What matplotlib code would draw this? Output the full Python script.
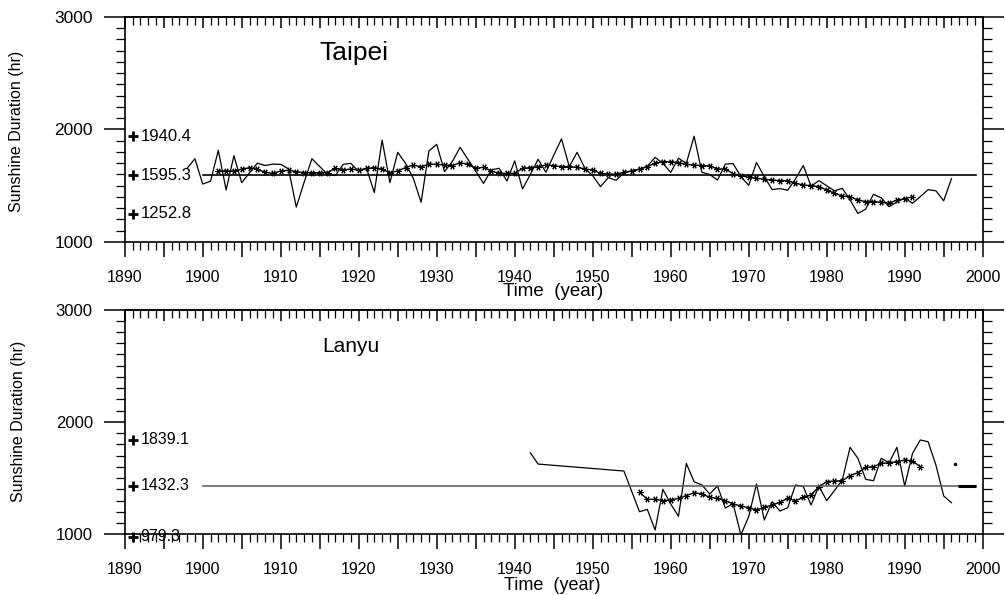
import matplotlib
matplotlib.use('Agg')
import matplotlib.pyplot as plt
import numpy as np
from matplotlib.ticker import MultipleLocator

plt.rcParams['font.family'] = ['Liberation Sans', 'DejaVu Sans']

# ---------------- data ----------------
taipei_years = list(range(1898, 1997))
taipei_raw = [1655, 1740, 1515, 1540, 1815, 1462, 1767, 1527, 1615, 1700,
              1680, 1692, 1690, 1650, 1310, 1530, 1740, 1670, 1602, 1590,
              1690, 1699, 1625, 1655, 1440, 1905, 1527, 1797, 1699, 1566,
              1353, 1809, 1868, 1625, 1715, 1841, 1735, 1630, 1521, 1640,
              1655, 1542, 1720, 1471, 1600, 1735, 1619, 1770, 1916, 1670,
              1797, 1655, 1590, 1492, 1572, 1548, 1615, 1630, 1650, 1672,
              1752, 1699, 1619, 1744, 1699, 1940, 1620, 1600, 1550, 1692,
              1697, 1580, 1504, 1706, 1581, 1466, 1474, 1460, 1560, 1680,
              1495, 1545, 1500, 1455, 1477, 1375, 1253, 1292, 1424, 1392,
              1314, 1355, 1392, 1344, 1403, 1465, 1455, 1366, 1563]
taipei_smooth_years = list(range(1902, 1992))
taipei_smooth = [1631, 1631, 1631, 1646, 1661, 1646, 1619, 1610, 1631, 1637,
                 1625, 1616, 1616, 1616, 1616, 1655, 1640, 1649, 1637, 1655,
                 1661, 1646, 1616, 1631, 1661, 1684, 1667, 1693, 1690, 1684,
                 1679, 1705, 1690, 1655, 1664, 1631, 1610, 1610, 1610, 1655,
                 1661, 1670, 1684, 1679, 1670, 1670, 1664, 1649, 1640, 1610,
                 1604, 1602, 1619, 1631, 1646, 1670, 1699, 1714, 1714, 1705,
                 1690, 1684, 1679, 1676, 1649, 1649, 1607, 1590, 1575, 1566,
                 1557, 1551, 1545, 1545, 1521, 1507, 1501, 1492, 1462, 1433,
                 1409, 1403, 1373, 1359, 1359, 1353, 1344, 1373, 1382, 1403]
taipei_mean = 1595.3
taipei_marks = [1940.4, 1595.3, 1252.8]

lanyu_years = [1942, 1943, 1954] + list(range(1956, 1997))
lanyu_raw = [1726, 1625, 1563,
             1201, 1222, 1038, 1400, 1270, 1160, 1631, 1468, 1439, 1359,
             1430, 1234, 1272, 995, 1157, 1448, 1127, 1290, 1207, 1237,
             1439, 1424, 1261, 1430, 1299, 1390, 1483, 1774, 1676, 1489,
             1477, 1676, 1637, 1774, 1430, 1720, 1839, 1824, 1617, 1341,
             1281]
lanyu_smooth_years = list(range(1956, 1993))
lanyu_smooth = [1376, 1311, 1311, 1299, 1305, 1320, 1344, 1370, 1359, 1329,
                1320, 1299, 1270, 1252, 1237, 1216, 1240, 1261, 1284, 1320,
                1299, 1329, 1350, 1424, 1468, 1474, 1477, 1522, 1548, 1596,
                1602, 1631, 1637, 1646, 1661, 1652, 1602]
lanyu_dot_year = [1996.4]
lanyu_dot_value = [1625]
lanyu_mean = 1432.3
lanyu_marks = [1839.1, 1432.3, 979.3]

xtick_years = list(range(1890, 2001, 5))
ytick_values = [1000, 2000, 3000]

# ---------------- figure ----------------
fig = plt.figure(figsize=(10.05, 5.95), dpi=100)
ax1 = fig.add_axes([0.1241, 0.5933, 0.8537, 0.3782])
ax2 = fig.add_axes([0.1241, 0.1020, 0.8537, 0.3778])


def style(ax, fs_x, fs_y, xpad):
    ax.set_xlim(1890, 2000)
    ax.set_ylim(1000, 3000)
    ax.set_xticks(xtick_years)
    ax.set_xticklabels([str(y) if y % 10 == 0 else '' for y in xtick_years],
                       fontsize=fs_x)
    ax.xaxis.set_minor_locator(MultipleLocator(1))
    ax.set_yticks(ytick_values)
    ax.set_yticklabels([str(v) for v in ytick_values], fontsize=fs_y)
    ax.yaxis.set_minor_locator(MultipleLocator(100))
    ax.tick_params(axis='x', which='major', direction='out', length=11,
                   width=1.1, top=False, pad=xpad)
    ax.tick_params(axis='x', which='minor', direction='out', length=6,
                   width=0.9, top=False)
    ax.tick_params(axis='y', which='major', direction='out', length=15,
                   width=1.1, right=True, pad=8)
    ax.tick_params(axis='y', which='minor', direction='out', length=6.5,
                   width=0.9, right=True)
    for s in ax.spines.values():
        s.set_linewidth(1.2)
    sec = ax.secondary_xaxis('top')
    sec.set_xticks(xtick_years)
    sec.set_xticklabels([])
    sec.xaxis.set_minor_locator(MultipleLocator(1))
    sec.tick_params(which='major', direction='in', length=8, width=1.1)
    sec.tick_params(which='minor', direction='in', length=5.5, width=0.9)
    sec.spines['top'].set_linewidth(1.2)


style(ax1, 11.5, 12.5, 9.5)
style(ax2, 11.5, 12, 9)

ast = (6, 2, 90)

# Taipei
ax1.plot(taipei_years, taipei_raw, color='black', lw=0.9)
ax1.plot(taipei_smooth_years, taipei_smooth, color='black', lw=1.0,
         marker=ast, ms=4.5, mew=0.8)
ax1.plot([1900, 1999.1], [taipei_mean, taipei_mean], color='black', lw=1.2)
for v in taipei_marks:
    ax1.plot([1891.1], [v], marker='+', ms=7, mew=2.0, color='black',
             clip_on=False)
    ax1.text(1892.0, v, f'{v:.1f}', fontsize=12, va='center', ha='left')
ax1.text(1915.0, 2620, 'Taipei', fontsize=19, va='baseline', ha='left')

# Lanyu
ax2.plot(lanyu_years, lanyu_raw, color='black', lw=0.9)
ax2.plot(lanyu_smooth_years, lanyu_smooth, color='black', lw=1.0,
         marker=ast, ms=4.5, mew=0.8)
ax2.plot(lanyu_dot_year, lanyu_dot_value, marker='o', ms=1.5,
         color='black', lw=0)
ax2.plot([1900, 1999.1], [lanyu_mean, lanyu_mean], color='#555555', lw=1.1)
ax2.plot([1996.8, 1999.1], [lanyu_mean, lanyu_mean], color='black', lw=2.2,
         solid_capstyle='butt')
for v in lanyu_marks:
    ax2.plot([1891.1], [v], marker='+', ms=7, mew=2.0, color='black',
             clip_on=False)
    ax2.text(1892.0, v, f'{v:.1f}', fontsize=11.5, va='center', ha='left',
             clip_on=False)
ax2.text(1915.3, 2625, 'Lanyu', fontsize=15, va='baseline', ha='left')

# axis labels
fig.text(17 / 1005, 1 - 131 / 595, 'Sunshine Duration (hr)', rotation=90,
         ha='center', va='center', fontsize=11.5)
fig.text(18 / 1005, 1 - 421 / 595, 'Sunshine Duration (hr)', rotation=90,
         ha='center', va='center', fontsize=11.5)
fig.text(553 / 1005, 1 - 292 / 595, 'Time  (year)', ha='center',
         va='center', fontsize=13.5)
fig.text(552 / 1005, 1 - 586 / 595, 'Time  (year)', ha='center',
         va='center', fontsize=13)

fig.savefig('out.png', dpi=100)
